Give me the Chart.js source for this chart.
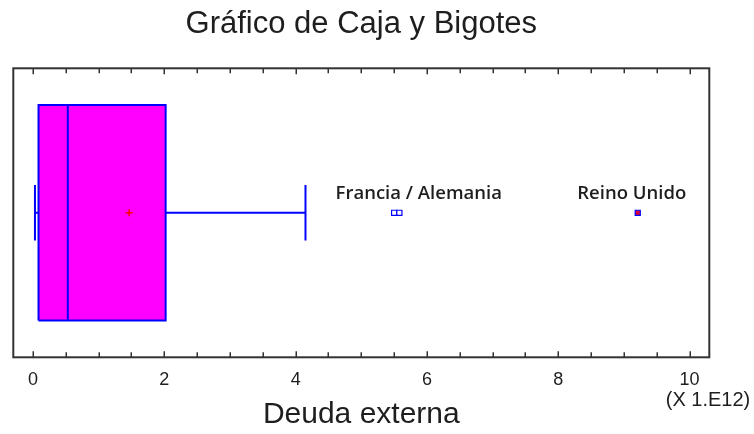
<!DOCTYPE html>
<html>
<head>
<meta charset="utf-8">
<script src="https://cdn.jsdelivr.net/npm/chart.js@4.4.1/dist/chart.umd.min.js"></script>
<style>
  html, body { margin: 0; padding: 0; background: #ffffff; }
  #wrap { width: 754px; height: 434px; }
</style>
</head>
<body>
<div id="wrap"><canvas id="c" width="754" height="434"></canvas></div>
<script>
// ---- Data (values in units of 1.E12) ----
const variableName = 'Deuda externa';
// [lower whisker, Q1, median, Q3, upper whisker]
const boxValues = [0.03, 0.084, 0.53, 2.02, 4.15];
const meanValues = [1.465];
const outlierGroupFrancia = [5.50, 5.58];
const outlierGroupReino = [9.21];
const outlierLabels = ['Francia / Alemania', 'Reino Unido'];
const tickValues = [0, 2, 4, 6, 8, 10];
const tickLabels = ['0', '2', '4', '6', '8', '10'];
const minorTickStep = 0.5;
const axisMultiplier = '(X 1.E12)';

// ---- Styles / layout ----
const BLUE = '#0000ff';
const MAGENTA = '#ff00ff';
const TEXT = '#1e1e1e';
const yMid = 0.5, boxHalf = 0.373, capHalf = 0.096;
const labelDx = [22, -6];

const [wLo, q1, med, q3, wHi] = boxValues;

function seg(x1, y1, x2, y2) {
  return {
    type: 'line', data: [{x: x1, y: y1}, {x: x2, y: y2}],
    borderColor: BLUE, borderWidth: 2, pointRadius: 0, fill: false, tension: 0, order: 5
  };
}

const datasets = [
  { // box
    type: 'line',
    data: [{x: q1, y: yMid - boxHalf}, {x: q1, y: yMid + boxHalf}, {x: q3, y: yMid + boxHalf},
           {x: q3, y: yMid - boxHalf}, {x: q1, y: yMid - boxHalf}],
    borderColor: BLUE, backgroundColor: MAGENTA, borderWidth: 2, pointRadius: 0,
    fill: 'shape', tension: 0, order: 10
  },
  seg(med, yMid - boxHalf, med, yMid + boxHalf),
  seg(wLo, yMid, q1, yMid),
  seg(q3, yMid, wHi, yMid),
  seg(wLo, yMid - capHalf, wLo, yMid + capHalf),
  seg(wHi, yMid - capHalf, wHi, yMid + capHalf),
  { // mean
    type: 'scatter', data: meanValues.map(v => ({x: v, y: yMid})),
    pointStyle: 'cross', pointRadius: 3.5, borderColor: '#ff0000', pointBorderWidth: 1.5, order: 1
  },
  { // outliers Francia / Alemania
    type: 'scatter', data: outlierGroupFrancia.map(v => ({x: v, y: yMid})),
    pointStyle: 'rect', pointRadius: 3.6, borderColor: BLUE, backgroundColor: '#ffffff',
    pointBorderWidth: 1.2, order: 1, outlierLabel: 0
  },
  { // outlier Reino Unido
    type: 'scatter', data: outlierGroupReino.map(v => ({x: v, y: yMid})),
    pointStyle: 'rect', pointRadius: 3.6, borderColor: BLUE, backgroundColor: '#e0003c',
    pointBorderWidth: 1.2, order: 1, outlierLabel: 1
  }
];

const framePlugin = {
  id: 'frame',
  afterDraw(chart) {
    const {ctx, chartArea: a} = chart;
    const xs = chart.scales.x;
    ctx.save();
    ctx.strokeStyle = '#333333';
    ctx.lineWidth = 2;
    ctx.strokeRect(a.left, a.top, a.right - a.left, a.bottom - a.top);
    ctx.lineWidth = 1.5;
    xs.ticks.forEach(t => {
      const px = Math.round(xs.getPixelForValue(t.value)) + 0.25;
      const len = tickValues.some(v => Math.abs(v - t.value) < 1e-6) ? 6 : 5;
      ctx.beginPath();
      ctx.moveTo(px, a.bottom); ctx.lineTo(px, a.bottom - len);
      ctx.moveTo(px, a.top); ctx.lineTo(px, a.top + len);
      ctx.stroke();
    });
    // multiplier note
    ctx.fillStyle = TEXT;
    ctx.font = '20px "Liberation Sans", Arial, sans-serif';
    ctx.textAlign = 'center';
    ctx.textBaseline = 'middle';
    ctx.fillText(axisMultiplier, 708, 400);
    ctx.restore();
  }
};

const outlierLabelPlugin = {
  id: 'outlierLabels',
  afterDatasetsDraw(chart) {
    const {ctx} = chart;
    ctx.save();
    ctx.fillStyle = TEXT;
    ctx.font = '600 18.5px "Open Sans", sans-serif';
    ctx.textAlign = 'center';
    ctx.textBaseline = 'middle';
    chart.data.datasets.forEach((ds, i) => {
      if (ds.outlierLabel === undefined) return;
      const pts = chart.getDatasetMeta(i).data;
      const cx = pts.reduce((s, p) => s + p.x, 0) / pts.length;
      const cy = pts[0].y;
      ctx.fillText(outlierLabels[ds.outlierLabel], cx + labelDx[ds.outlierLabel], cy - 19);
    });
    ctx.restore();
  }
};

new Chart(document.getElementById('c'), {
  type: 'scatter',
  data: { datasets },
  options: {
    responsive: false,
    devicePixelRatio: 1,
    animation: false,
    layout: { padding: { left: 13.3, right: 44.7, top: 0, bottom: 0 } },
    plugins: {
      legend: { display: false },
      tooltip: { enabled: false },
      title: {
        display: true,
        text: 'Gráfico de Caja y Bigotes',
        color: TEXT,
        font: { family: '"Liberation Sans", Arial, sans-serif', size: 31, weight: 'normal' },
        padding: { top: 6, bottom: 25.1 }
      }
    },
    scales: {
      x: {
        type: 'linear', position: 'bottom', min: -0.3, max: 10.3,
        grid: { display: false, drawTicks: false },
        border: { display: false },
        afterBuildTicks(scale) {
          const first = tickValues[0], last = tickValues[tickValues.length - 1];
          const n = Math.round((last - first) / minorTickStep);
          const ticks = [];
          for (let i = 0; i <= n; i++) ticks.push({ value: first + i * minorTickStep });
          scale.ticks = ticks;
        },
        afterFit(scale) { scale.height = 76.7; },
        ticks: {
          autoSkip: false, maxRotation: 0, padding: 12,
          color: TEXT,
          font: { family: '"Liberation Sans", Arial, sans-serif', size: 18 },
          callback(v) {
            const idx = tickValues.findIndex(t => Math.abs(t - v) < 1e-6);
            return idx >= 0 ? tickLabels[idx] : '';
          }
        },
        title: {
          display: true, text: variableName, color: TEXT,
          font: { family: '"Liberation Sans", Arial, sans-serif', size: 30 },
          padding: { top: 0, bottom: 1 }
        }
      },
      y: { type: 'linear', min: 0, max: 1, display: false }
    }
  },
  plugins: [framePlugin, outlierLabelPlugin]
});
</script>
</body>
</html>
